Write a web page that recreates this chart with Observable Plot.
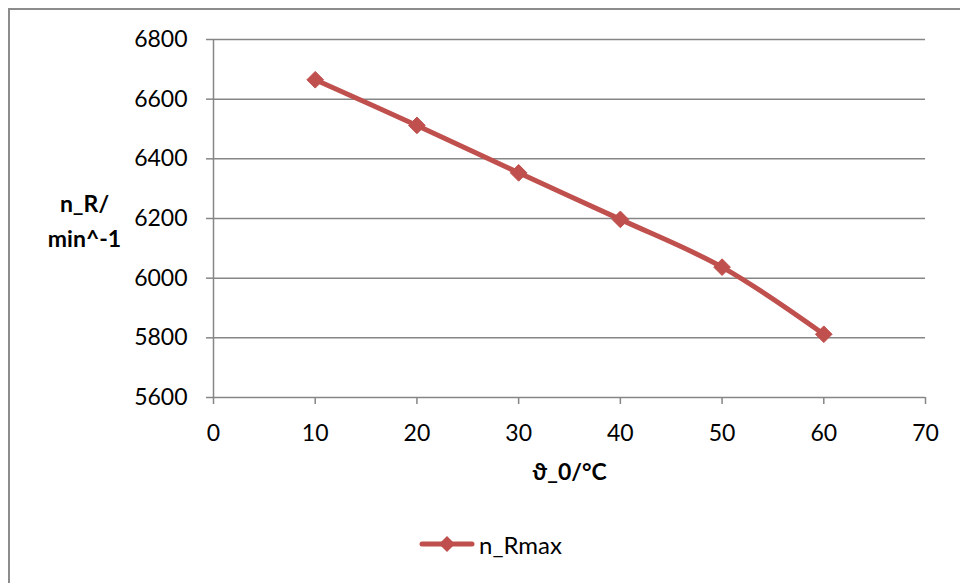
<!DOCTYPE html>
<html>
<head>
<meta charset="utf-8">
<script src="https://cdn.jsdelivr.net/npm/d3@7"></script>
<script src="https://cdn.jsdelivr.net/npm/@observablehq/plot@0.6"></script>
<style>
  html, body { margin: 0; padding: 0; background: #fff; }
  #wrap { position: relative; width: 960px; height: 583px; overflow: hidden; font-family: Lato, "Open Sans", sans-serif; }
  #frame { position: absolute; left: 8px; top: 8px; width: 1100px; height: 1000px; border: 2px solid #8c8c8c; box-sizing: border-box; }
  #chart { position: absolute; left: 0; top: 0; }
  #legend { position: absolute; left: 419px; top: 530px; height: 28px; display: flex; align-items: center; font-size: 24px; color: #000; }
  #legend span { margin-left: 4px; }
</style>
</head>
<body>
<div id="wrap">
  <div id="frame"></div>
  <div id="chart"></div>
  <div id="legend"></div>
</div>
<script>
const temps = [10, 20, 30, 40, 50, 60];
const nRmax = [6665, 6512, 6353, 6197, 6037, 5812];
const xTicks = [0, 10, 20, 30, 40, 50, 60, 70];
const yTicks = [5600, 5800, 6000, 6200, 6400, 6600, 6800];
const seriesName = "n_Rmax";
const xLabel = "ϑ_0/°C";
const yLabel = "n_R/\nmin^-1";

const color = "#C0504D";
const gray = "#868686";
const data = temps.map((t, i) => ({t, n: nRmax[i]}));

const chart = Plot.plot({
  width: 960,
  height: 583,
  marginLeft: 213,
  marginRight: 35,
  marginTop: 39,
  marginBottom: 186,
  style: {fontFamily: "Lato, 'Open Sans', sans-serif", fontSize: "23px", color: "#000", background: "transparent"},
  x: {domain: [0, 70]},
  y: {domain: [5600, 6800]},
  marks: [
    Plot.gridY(yTicks, {stroke: gray, strokeOpacity: 1, strokeWidth: 1.5}),
    Plot.ruleX([0], {stroke: gray, strokeWidth: 1.5}),
    Plot.axisY(yTicks, {tickSize: 7, tickPadding: 19, stroke: gray, strokeWidth: 1.5, fill: "#000", fontSize: 23, label: null, tickFormat: d => String(d)}),
    Plot.axisX(xTicks, {tickSize: 7, tickPadding: 20, stroke: gray, strokeWidth: 1.5, fill: "#000", fontSize: 23, label: null, tickFormat: d => String(d)}),
    Plot.line(data, {x: "t", y: "n", stroke: color, strokeWidth: 5, curve: "catmull-rom"}),
    Plot.dot(data, {x: "t", y: "n", symbol: "diamond2", r: 7.5, fill: color, stroke: color, strokeWidth: 1}),
    Plot.text([yLabel], {frameAnchor: "left", dx: -129, textAnchor: "middle", lineAnchor: "middle", fontWeight: "bold", fontSize: 23, lineHeight: 1.52, fill: "#000"}),
    Plot.text([xLabel], {frameAnchor: "bottom", dy: 75, textAnchor: "middle", lineAnchor: "middle", fontWeight: "bold", fontSize: 23, fill: "#000"})
  ]
});
document.getElementById("chart").appendChild(chart);

const legend = document.getElementById("legend");
legend.innerHTML = `<svg width="56" height="20" viewBox="0 0 56 20"><line x1="3" y1="10" x2="53" y2="10" stroke="${color}" stroke-width="5" stroke-linecap="round"/><path d="M28,2 L36,10 L28,18 L20,10 Z" fill="${color}"/></svg><span>${seriesName}</span>`;
</script>
</body>
</html>
